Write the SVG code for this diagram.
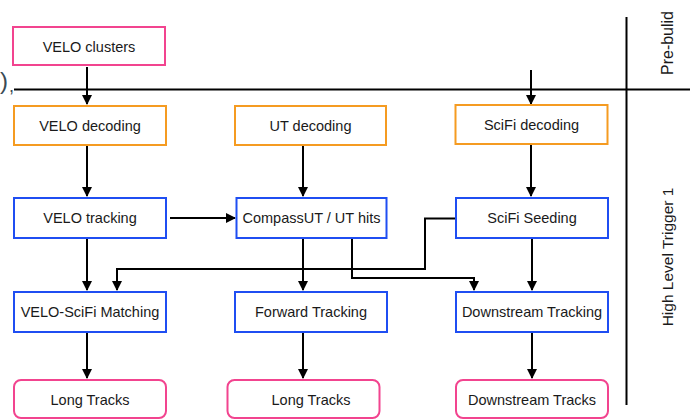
<svg xmlns="http://www.w3.org/2000/svg" width="690" height="420" viewBox="0 0 690 420">
  <style>
    text { font-family: "Liberation Sans", Arial, Helvetica, sans-serif; font-size: 14.5px; fill: #1a1a1a; text-anchor: middle; dominant-baseline: central; }
    .pink rect { fill: #fff; stroke: #f2448f; stroke-width: 2; }
    .orange rect { fill: #fff; stroke: #f59b21; stroke-width: 2; }
    .blue rect { fill: #fff; stroke: #1f4ef2; stroke-width: 2; }
    .edge { fill: none; stroke: #000; stroke-width: 2; }
    .rule { stroke: #000; stroke-width: 2; }
    .side { font-size: 15.5px; }
    .mark { fill: #3a4a55; text-anchor: start; }
  </style>
  <defs>
    <marker id="arrow" viewBox="0 0 10 10" refX="9" refY="5" markerWidth="5" markerHeight="5" orient="auto" markerUnits="strokeWidth">
      <path d="M0,0 L10,5 L0,10 z" fill="#000"/>
    </marker>
  </defs>

  <rect width="690" height="420" fill="#fff"/>

  <!-- stage separators -->
  <g id="separators">
    <line class="rule" x1="14" y1="89.5" x2="690" y2="89.5"/>
    <line class="rule" x1="626.5" y1="17" x2="626.5" y2="405"/>
    <text class="mark" x="0" y="80" style="font-size:24px">)</text>
    <text class="mark" x="9" y="86" style="font-size:18px">,</text>
  </g>

  <g id="stage-labels">
    <text class="side" transform="translate(667,43) rotate(-90)" style="font-size:16px">Pre-bulid</text>
    <text class="side" transform="translate(667,257) rotate(-90)">High Level Trigger 1</text>
  </g>

  <!-- connectors -->
  <g id="connectors">
    <line class="edge" x1="87" y1="67" x2="87" y2="104" marker-end="url(#arrow)"/>
    <line class="edge" x1="531" y1="70" x2="531" y2="104" marker-end="url(#arrow)"/>
    <line class="edge" x1="87" y1="146" x2="87" y2="196" marker-end="url(#arrow)"/>
    <line class="edge" x1="303" y1="146" x2="303" y2="196" marker-end="url(#arrow)"/>
    <line class="edge" x1="531" y1="145" x2="531" y2="196" marker-end="url(#arrow)"/>
    <line class="edge" x1="170" y1="218" x2="235" y2="218" marker-end="url(#arrow)"/>
    <line class="edge" x1="87" y1="239" x2="87" y2="290" marker-end="url(#arrow)"/>
    <line class="edge" x1="303" y1="239" x2="303" y2="290" marker-end="url(#arrow)"/>
    <line class="edge" x1="532" y1="239" x2="532" y2="290" marker-end="url(#arrow)"/>
    <polyline class="edge" points="455,218.5 425,218.5 425,269 117,269 117,290" marker-end="url(#arrow)"/>
    <polyline class="edge" points="352,239 352,278 474,278 474,290" marker-end="url(#arrow)"/>
    <line class="edge" x1="87" y1="333" x2="87" y2="378" marker-end="url(#arrow)"/>
    <line class="edge" x1="303" y1="333" x2="303" y2="378" marker-end="url(#arrow)"/>
    <line class="edge" x1="532" y1="333" x2="532" y2="378" marker-end="url(#arrow)"/>
  </g>

  <!-- nodes -->
  <g id="velo-clusters" class="pink">
    <rect x="13" y="27" width="152" height="38"/>
    <text x="89" y="47">VELO clusters</text>
  </g>
  <g id="velo-decoding" class="orange">
    <rect x="14" y="106" width="152" height="39"/>
    <text x="90" y="126">VELO decoding</text>
  </g>
  <g id="ut-decoding" class="orange">
    <rect x="235" y="106" width="151" height="39"/>
    <text x="310.5" y="126">UT decoding</text>
  </g>
  <g id="scifi-decoding" class="orange">
    <rect x="455.5" y="105" width="152" height="39"/>
    <text x="531.5" y="125">SciFi decoding</text>
  </g>
  <g id="velo-tracking" class="blue">
    <rect x="14" y="198" width="152" height="40"/>
    <text x="90" y="218">VELO tracking</text>
  </g>
  <g id="compassut" class="blue">
    <rect x="236.5" y="198" width="150" height="40"/>
    <text x="311.5" y="218">CompassUT / UT hits</text>
  </g>
  <g id="scifi-seeding" class="blue">
    <rect x="456" y="198" width="152" height="40"/>
    <text x="532" y="218">SciFi Seeding</text>
  </g>
  <g id="velo-scifi-matching" class="blue">
    <rect x="14" y="292" width="152" height="40"/>
    <text x="90" y="312">VELO-SciFi Matching</text>
  </g>
  <g id="forward-tracking" class="blue">
    <rect x="235" y="292" width="152" height="40"/>
    <text x="311" y="312">Forward Tracking</text>
  </g>
  <g id="downstream-tracking" class="blue">
    <rect x="456" y="292" width="152" height="40"/>
    <text x="532" y="312">Downstream Tracking</text>
  </g>
  <g id="long-tracks-1" class="pink">
    <rect x="14" y="380" width="152" height="38" rx="7"/>
    <text x="90" y="400">Long Tracks</text>
  </g>
  <g id="long-tracks-2" class="pink">
    <rect x="227.5" y="380" width="152" height="38" rx="7"/>
    <text x="311" y="400">Long Tracks</text>
  </g>
  <g id="downstream-tracks" class="pink">
    <rect x="456" y="380" width="152" height="38" rx="7"/>
    <text x="532" y="400">Downstream Tracks</text>
  </g>
</svg>
